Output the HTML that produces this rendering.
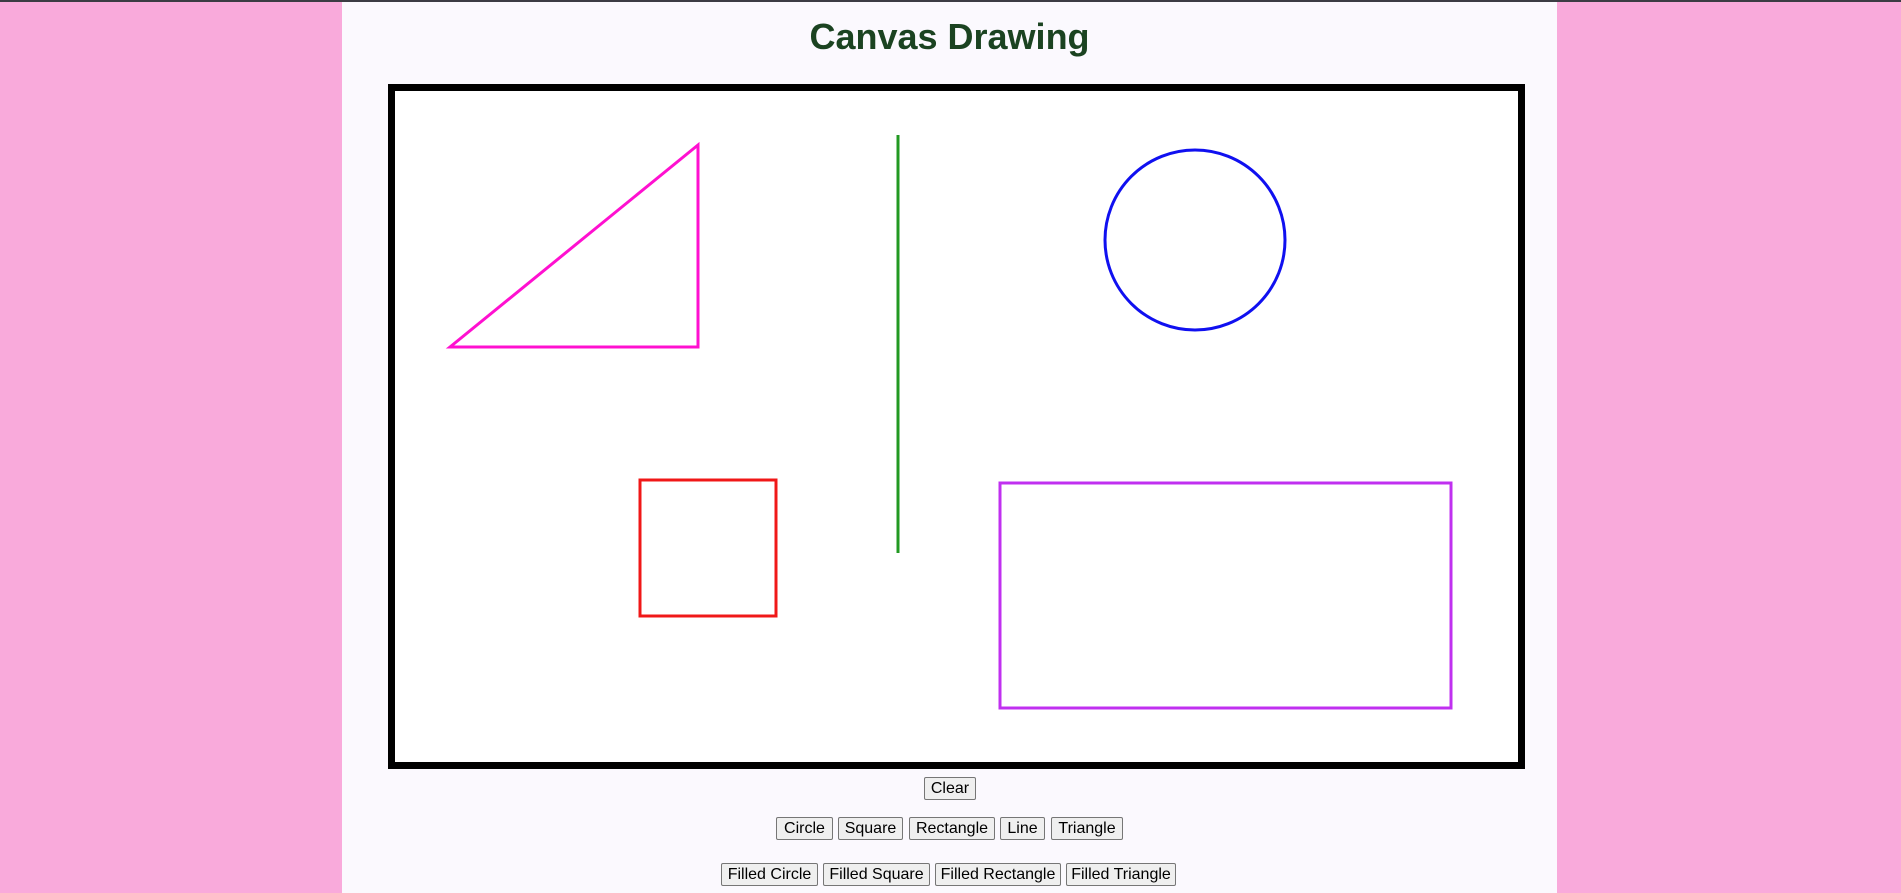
<!DOCTYPE html>
<html><head><meta charset="utf-8"><title>Canvas Drawing</title>
<style>
html,body{margin:0;padding:0;width:1901px;height:893px;overflow:hidden;background:#f9aadb;font-family:"Liberation Sans",Arial,sans-serif;}
#topbar{position:absolute;left:0;top:0;width:1901px;height:2px;background:#3c3c44;}
#panel{position:absolute;left:342px;top:2px;width:1215px;height:891px;background:#fbf9fe;}
h1{position:absolute;left:342px;top:13px;width:1215px;margin:0;text-align:center;font-size:36px;font-weight:bold;color:#1b4321;line-height:48px;}
#canvas{position:absolute;left:388px;top:84px;}
button{position:absolute;height:23px;padding:0;font-family:"Liberation Sans",Arial,sans-serif;font-size:16px;color:#000;background:#efefef;border:1px solid #767676;border-radius:2px;text-align:center;white-space:nowrap;overflow:visible;line-height:21px;}
</style></head>
<body>
<div id="topbar"></div>
<div id="panel"></div>
<h1>Canvas Drawing</h1>
<svg id="canvas" width="1137" height="685">
  <rect x="3.5" y="3.5" width="1130" height="678" fill="#fff" stroke="#000" stroke-width="7"/>
  <polygon points="62,263 310,61 310,263" fill="none" stroke="#ff10d0" stroke-width="3"/>
  <line x1="510" y1="51" x2="510" y2="469" stroke="#229922" stroke-width="3"/>
  <circle cx="807" cy="156" r="90" fill="none" stroke="#1010f0" stroke-width="3"/>
  <rect x="252" y="396" width="136" height="136" fill="none" stroke="#f01818" stroke-width="3"/>
  <rect x="612" y="399" width="451" height="225" fill="none" stroke="#c030f0" stroke-width="3"/>
</svg>
<button style="left:924px;top:777px;width:52px">Clear</button>
<button style="left:776px;top:817px;width:57px">Circle</button>
<button style="left:838px;top:817px;width:65px">Square</button>
<button style="left:909px;top:817px;width:86px">Rectangle</button>
<button style="left:1000px;top:817px;width:45px">Line</button>
<button style="left:1051px;top:817px;width:72px">Triangle</button>
<button style="left:721px;top:863px;width:97px">Filled Circle</button>
<button style="left:823px;top:863px;width:107px">Filled Square</button>
<button style="left:935px;top:863px;width:126px">Filled Rectangle</button>
<button style="left:1066px;top:863px;width:110px">Filled Triangle</button>
</body></html>
